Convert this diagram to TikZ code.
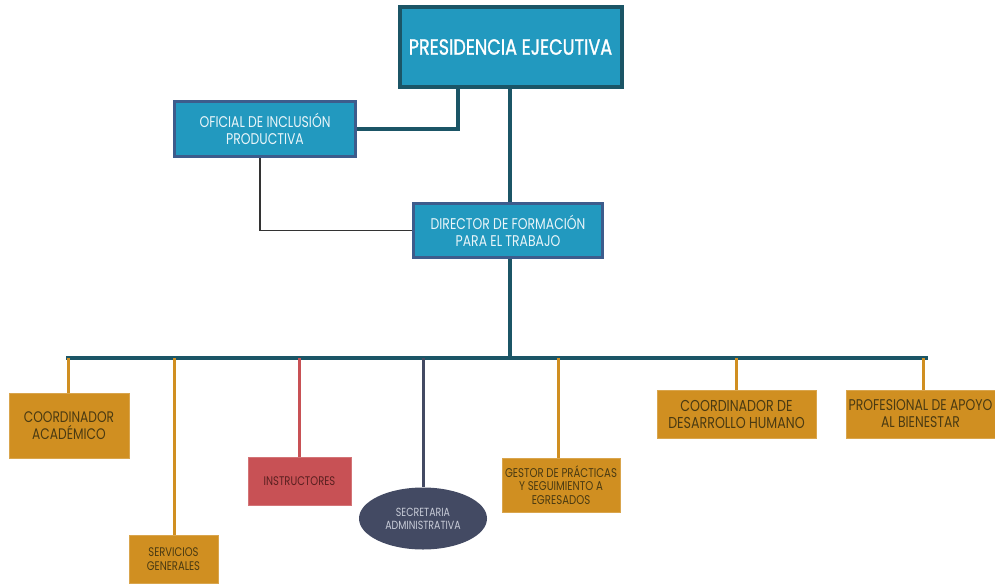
\documentclass[tikz,border=0pt]{standalone}
\usepackage{fontspec}
\setmainfont[FakeStretch=0.8]{Poppins}
\newfontfamily\presfont[FakeStretch=0.8,FakeBold=1.2]{Poppins}
\usetikzlibrary{shapes.geometric}
\definecolor{teal}{HTML}{2299BF}
\definecolor{darkteal}{HTML}{1B5566}
\definecolor{bluebord}{HTML}{3D5C8C}
\definecolor{gold}{HTML}{D08F21}
\definecolor{goldtext}{HTML}{4A3A12}
\definecolor{redbox}{HTML}{C85155}
\definecolor{redtext}{HTML}{5A2020}
\definecolor{navy}{HTML}{434A63}
\definecolor{navytext}{HTML}{C8CCD8}
\tikzset{
  topbox/.style={draw=darkteal, line width=4pt, fill=teal, text=white, font=\presfont\fontsize{22}{24}\selectfont, inner sep=0pt},
  midbox/.style={draw=bluebord, line width=3pt, fill=teal, text=white!90!teal, font=\fontsize{15.5}{17}\selectfont, align=center, inner sep=0pt},
  goldbox/.style={fill=gold, draw=gold!80!white, line width=0.6pt, text=goldtext, align=center, inner sep=0pt},
  redbx/.style={fill=redbox, draw=redbox!80!white, line width=0.6pt, text=redtext, align=center, inner sep=0pt},
  thickline/.style={draw=darkteal, line width=4pt},
  goldline/.style={draw=gold, line width=3pt},
}
\begin{document}
\begin{tikzpicture}[x=1pt,y=-1pt]
\useasboundingbox (0,0) rectangle (995,586);
% top level
\node[topbox, minimum width=222pt, minimum height=79pt] (pres) at (510.5,47) {PRESIDENCIA EJECUTIVA};
\node[midbox, minimum width=181pt, minimum height=55pt] (ofi) at (265,129) {OFICIAL DE INCLUSIÓN\\PRODUCTIVA};
\node[midbox, minimum width=189pt, minimum height=54pt] (dir) at (508,230.5) {DIRECTOR DE FORMACIÓN\\PARA EL TRABAJO};
% children
\node[goldbox, minimum width=120pt, minimum height=65pt, font=\fontsize{15.3}{17}\selectfont] (coa) at (69,425.5) {COORDINADOR\\ACADÉMICO};
\node[goldbox, minimum width=89pt, minimum height=48pt, font=\fontsize{12.5}{14}\selectfont] (ser) at (173.5,559) {SERVICIOS\\GENERALES};
\node[redbx, minimum width=103pt, minimum height=48pt, font=\fontsize{12.5}{14}\selectfont] (ins) at (299.5,481) {INSTRUCTORES};
\node[ellipse, fill=navy, minimum width=128pt, minimum height=62pt, inner sep=0pt, text=navytext, align=center, font=\fontsize{11.8}{13}\selectfont] (sec) at (423,518.5) {SECRETARIA\\ADMINISTRATIVA};
\node[goldbox, minimum width=118pt, minimum height=54pt, font=\fontsize{12.7}{13.5}\selectfont] (ges) at (561,485) {GESTOR DE PRÁCTICAS\\Y SEGUIMIENTO A\\EGRESADOS};
\node[goldbox, minimum width=159pt, minimum height=48pt, font=\fontsize{15.8}{17}\selectfont] (cdh) at (736.5,414) {COORDINADOR DE\\DESARROLLO HUMANO};
\node[goldbox, minimum width=149pt, minimum height=48pt, font=\fontsize{15.5}{17}\selectfont] (pro) at (920.5,414) {PROFESIONAL DE APOYO\\AL BIENESTAR};
% bus
\coordinate (busL) at (68,358);
\coordinate (busR) at (926,358);
% connectors
\draw[thickline] (pres.south -| 458,0) |- (ofi.east);
\draw[thickline] (pres.south -| 510,0) -- (dir.north -| 510,0);
\draw[thickline] (dir.south -| 510,0) -- (510,358);
\draw[draw=black!80, line width=1.3pt] (ofi.south -| 260,0) |- (dir.west);
\draw[thickline, line width=4.5pt, line cap=rect] (busL) -- (busR);
\draw[goldline] (68,358) -- (coa.north -| 68,0);
\draw[goldline] (174,358) -- (ser.north -| 174,0);
\draw[draw=redbox, line width=3pt] (299,358) -- (ins.north -| 299,0);
\draw[draw=navy, line width=3pt] (423,358) -- (sec.north);
\draw[goldline] (558,358) -- (ges.north -| 558,0);
\draw[goldline] (736,358) -- (cdh.north -| 736,0);
\draw[goldline] (923,358) -- (pro.north -| 923,0);
\end{tikzpicture}
\end{document}
